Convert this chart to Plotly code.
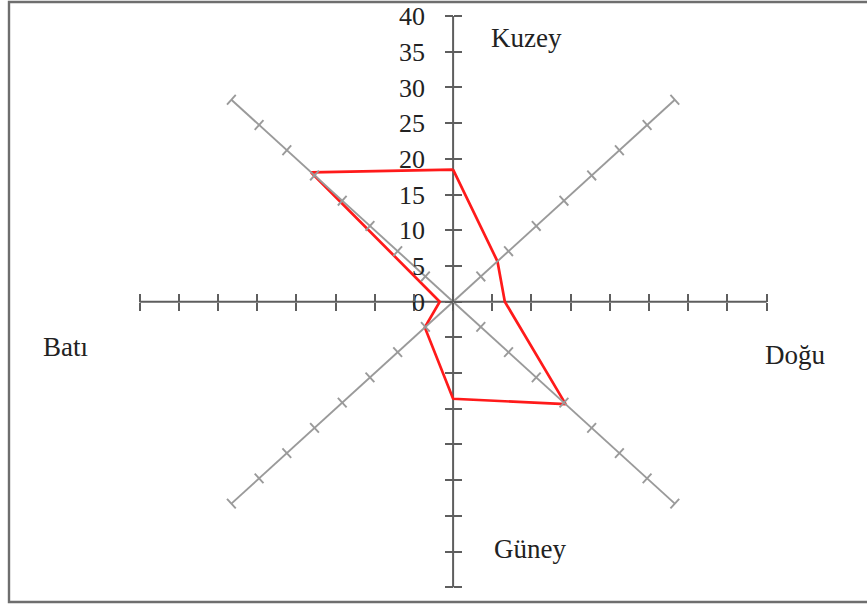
import numpy as np
import plotly.graph_objects as go

# Rüzgar yönleri: kuzeyden saat yönünde açı (derece) ve değerler
directions = ["Kuzey", "Kuzeydoğu", "Doğu", "Güneydoğu", "Güney", "Güneybatı", "Batı", "Kuzeybatı"]
angles = [0, 45, 90, 135, 180, 225, 270, 315]
values = [18.5, 8.0, 6.6, 20.3, 13.6, 5.1, 1.7, 25.6]

axis_max = 40
tick_step = 5
tick_vals = list(range(-axis_max, axis_max + tick_step, tick_step))
tick_text = [str(v) if v >= 0 else "" for v in tick_vals]

W, H = 867, 608
X_RANGE = [-57.8, 52.8]
Y_RANGE = [-42.9, 42.25]
SX = W / (X_RANGE[1] - X_RANGE[0])   # px per unit, x
SY = H / (Y_RANGE[1] - Y_RANGE[0])   # px per unit, y
X0 = -X_RANGE[0] / (X_RANGE[1] - X_RANGE[0])
Y0 = -Y_RANGE[0] / (Y_RANGE[1] - Y_RANGE[0])

FONT = "Liberation Serif"
AXIS_DARK = "#5e5e5e"
AXIS_LIGHT = "#9a9a9a"

theta = np.radians(angles)
r = np.array(values)
px_ = np.append(r * np.sin(theta), r[0] * np.sin(theta[0]))
py_ = np.append(r * np.cos(theta), r[0] * np.cos(theta[0]))

# diagonal spokes with cross ticks
spoke_x, spoke_y, tk_x, tk_y = [], [], [], []
for a in [45, 135, 225, 315]:
    t = np.radians(a)
    spoke_x += [0, axis_max * np.sin(t), None]
    spoke_y += [0, axis_max * np.cos(t), None]
    dx, dy = np.sin(t) * SX, np.cos(t) * SY
    n = np.hypot(dx, dy)
    perp = (-dy / n, dx / n)
    half = 6.5
    for rr in range(tick_step, axis_max + tick_step, tick_step):
        cx, cy = rr * np.sin(t), rr * np.cos(t)
        tk_x += [cx - perp[0] * half / SX, cx + perp[0] * half / SX, None]
        tk_y += [cy - perp[1] * half / SY, cy + perp[1] * half / SY, None]

fig = go.Figure()
fig.add_trace(go.Scatter(x=spoke_x, y=spoke_y, mode="lines", xaxis="x2", yaxis="y2",
                         line=dict(color=AXIS_LIGHT, width=1.9), hoverinfo="skip"))
fig.add_trace(go.Scatter(x=tk_x, y=tk_y, mode="lines", xaxis="x2", yaxis="y2",
                         line=dict(color=AXIS_LIGHT, width=1.9), hoverinfo="skip"))
# vertical / horizontal spokes
fig.add_trace(go.Scatter(x=[-axis_max, axis_max, None, 0, 0], y=[0, 0, None, -axis_max, axis_max],
                         mode="lines", line=dict(color=AXIS_DARK, width=2), hoverinfo="skip"))
fig.add_trace(go.Scatter(x=px_, y=py_, mode="lines", text=directions + [directions[0]],
                         line=dict(color="#ff1a1a", width=2.7)))

common = dict(showgrid=False, zeroline=False, showline=False, ticks="outside",
              ticklen=8, tickwidth=2, tickcolor=AXIS_DARK, anchor="free")
fig.update_layout(
    width=W, height=H,
    margin=dict(l=0, r=0, t=0, b=0),
    paper_bgcolor="white", plot_bgcolor="white",
    showlegend=False,
    font=dict(family=FONT, size=26, color="#222222"),
    xaxis=dict(range=X_RANGE, tickmode="array", tickvals=tick_vals, showticklabels=False,
               side="bottom", position=Y0, **common),
    xaxis2=dict(range=X_RANGE, tickmode="array", tickvals=tick_vals, showticklabels=False,
                side="top", position=Y0, overlaying="x", **common),
    yaxis=dict(range=Y_RANGE, tickmode="array", tickvals=tick_vals, ticktext=tick_text,
               side="left", position=X0, ticklabelstandoff=15,
               tickfont=dict(family=FONT, size=26, color="#222222"), **common),
    yaxis2=dict(range=Y_RANGE, tickmode="array", tickvals=tick_vals, showticklabels=False,
                side="right", position=X0, overlaying="y", **common),
)

for txt, x, y in [("Kuzey", 9.4, 36.9), ("Doğu", 43.6, -7.5), ("Güney", 9.8, -34.6), ("Batı", -49.5, -6.4)]:
    fig.add_annotation(x=x, y=y, text=txt, showarrow=False,
                       font=dict(family=FONT, size=27, color="#222222"))

# chart border
fig.add_shape(type="rect", xref="paper", yref="paper", x0=9 / W, x1=1.01, y0=1 - 602 / H, y1=1 - 2 / H,
              line=dict(color="#6e6e6e", width=2.4))

fig.write_html("out.html", config={"displayModeBar": False},
               post_script="document.body.style.margin='0';")
